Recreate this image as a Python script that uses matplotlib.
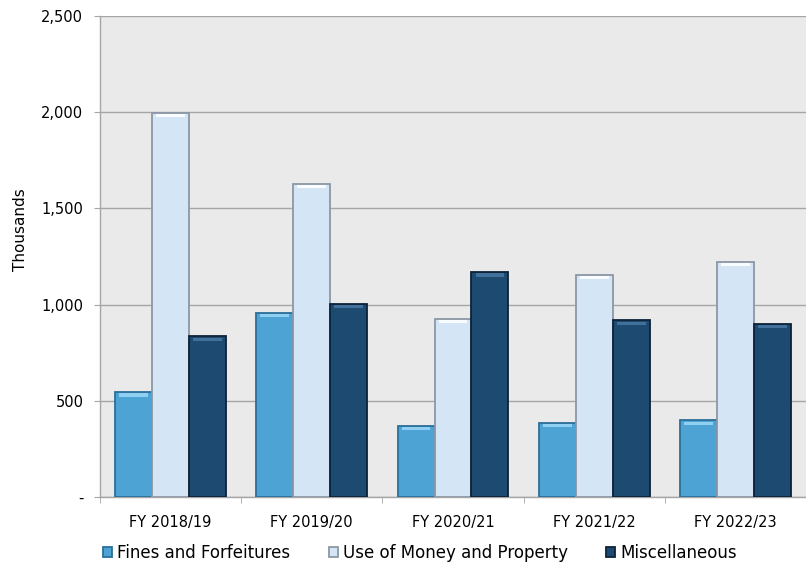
import matplotlib.pyplot as plt
import numpy as np
from matplotlib.ticker import FuncFormatter, FixedLocator

# 各财年收入（千）
years = ['FY 2018/19', 'FY 2019/20', 'FY 2020/21', 'FY 2021/22', 'FY 2022/23']
fines = [544, 958, 369, 385, 398]
use_of_money = [1996, 1628, 924, 1154, 1223]
misc = [835, 1003, 1168, 918, 901]

series = [
    ('Fines and Forfeitures', fines, '#4da3d4', '#2c6f99', '#8fd0f2'),
    ('Use of Money and Property', use_of_money, '#d4e5f6', '#8c97a6', '#f8fcff'),
    ('Miscellaneous', misc, '#1c4a70', '#0c2238', '#41719a'),
]

plt.rcParams['font.family'] = ['DejaVu Sans']

fig = plt.figure(figsize=(8.06, 5.64), dpi=100)
ax = fig.add_axes([100 / 806, 67 / 564, 706 / 806, 481 / 564])
ax.set_facecolor('#eaeaea')

x = np.arange(len(years))
w = 0.262
handles = []
for i, (name, vals, face, edge, light) in enumerate(series):
    pos = x + (i - 1) * w
    b = ax.bar(pos, vals, width=w, color=face, edgecolor=edge, linewidth=1.3,
               zorder=3, label=name)
    # 顶部高光，做出一点斜面效果
    ax.bar(pos, [16] * len(vals), bottom=np.array(vals) - 22, width=w * 0.78,
           color=light, linewidth=0, zorder=4)
    handles.append(b)

ax.set_xlim(-0.5, len(years) - 0.5)
ax.set_ylim(0, 2500)
ax.set_yticks(np.arange(0, 2501, 500))
ax.yaxis.set_major_formatter(FuncFormatter(lambda v, p: '-' if v == 0 else f'{int(v):,}'))
ax.yaxis.grid(True, color='#a6a6a6', linewidth=1.0, zorder=0)

ax.set_xticks(x)
ax.set_xticklabels(years)
ax.xaxis.set_minor_locator(FixedLocator(np.arange(-0.5, len(years), 1.0)))
ax.tick_params(axis='x', which='major', length=0, pad=13, labelsize=10.5, colors='#000000')
ax.tick_params(axis='x', which='minor', length=4, color='#a6a6a6')
ax.tick_params(axis='y', length=4, color='#a6a6a6', labelsize=10.5, pad=8)

for s in ['top', 'right']:
    ax.spines[s].set_visible(False)
for s in ['left', 'bottom']:
    ax.spines[s].set_color('#a6a6a6')
    ax.spines[s].set_linewidth(1.0)

ax.set_ylabel('Thousands', fontsize=11)
ax.yaxis.set_label_coords(-0.102, 0.555)

leg = fig.legend(handles=handles, loc='center', bbox_to_anchor=(0.521, 11 / 564),
                 ncol=3, frameon=False, fontsize=12, handlelength=0.55,
                 handleheight=0.55, handletextpad=0.3, columnspacing=2.3)

plt.savefig('out.png', dpi=100)
plt.close()
